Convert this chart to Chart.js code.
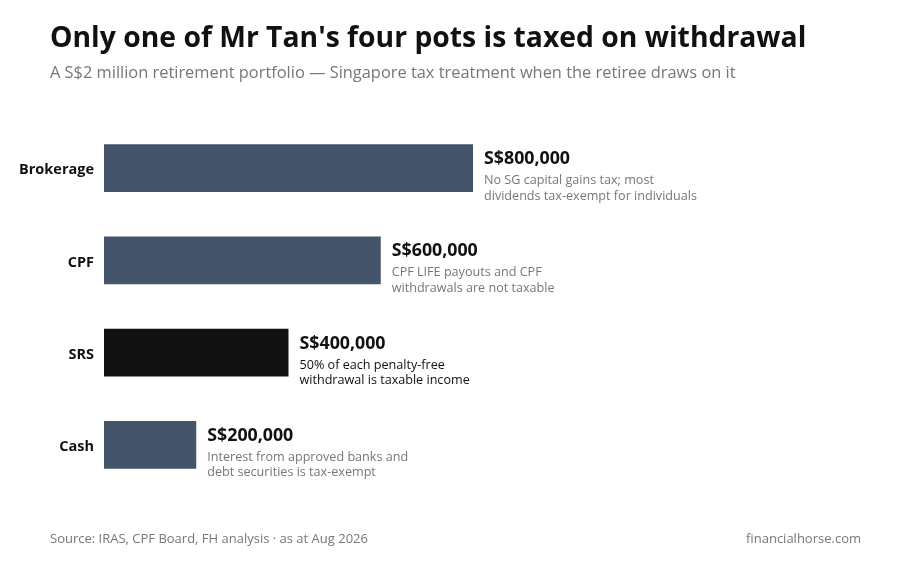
<!DOCTYPE html>
<html>
<head>
<meta charset="utf-8">
<script src="https://cdn.jsdelivr.net/npm/chart.js@4.4.1/dist/chart.umd.min.js"></script>
<style>
  html, body { margin: 0; padding: 0; background: #fff; }
  body { width: 903px; height: 566px; position: relative; overflow: hidden; font-family: "Open Sans", sans-serif; }
  #title { position: absolute; left: 50px; top: 17px; font-size: 28.3px; font-weight: 700; color: #111; white-space: nowrap; }
  #subtitle { position: absolute; left: 50px; top: 60px; font-size: 16.4px; color: #777; white-space: nowrap; }
  #source { position: absolute; left: 50px; top: 529px; font-size: 13px; color: #777; }
  #brand { position: absolute; right: 42px; top: 529px; font-size: 13px; color: #777; }
  #wrap { position: absolute; left: 0; top: 0; width: 903px; height: 566px; }
</style>
</head>
<body>
<div id="wrap"><canvas id="potsChart"></canvas></div>
<div id="title">Only one of Mr Tan's four pots is taxed on withdrawal</div>
<div id="subtitle">A S$2 million retirement portfolio — Singapore tax treatment when the retiree draws on it</div>
<div id="source">Source: IRAS, CPF Board, FH analysis · as at Aug 2026</div>
<div id="brand">financialhorse.com</div>
<script>
// datos del grafico
const pots = ['Brokerage', 'CPF', 'SRS', 'Cash'];
const potValues = [800000, 600000, 400000, 200000];
const potNotes = [
    ['No SG capital gains tax; most', 'dividends tax-exempt for individuals'],
    ['CPF LIFE payouts and CPF', 'withdrawals are not taxable'],
    ['50% of each penalty-free', 'withdrawal is taxable income'],
    ['Interest from approved banks and', 'debt securities is tax-exempt']
];
const taxedPot = 'SRS';

const fmtMoney = v => 'S$' + v.toLocaleString('en-US');

// etiquetas a la derecha de cada barra
const barNotes = {
    id: 'barNotes',
    afterDatasetsDraw(chart) {
        const ctx = chart.ctx;
        const meta = chart.getDatasetMeta(0);
        ctx.save();
        ctx.textAlign = 'left';
        ctx.textBaseline = 'middle';
        meta.data.forEach((bar, i) => {
            const x = bar.x + 11;
            const top = bar.y - bar.height / 2;
            const taxed = pots[i] === taxedPot;
            ctx.fillStyle = '#111';
            ctx.font = '700 17.8px "Open Sans"';
            ctx.fillText(fmtMoney(potValues[i]), x, top + 15);
            ctx.font = '12.6px "Open Sans"';
            ctx.fillStyle = taxed ? '#111' : '#777';
            potNotes[i].forEach((line, j) => {
                ctx.fillText(line, x, top + 36.5 + j * 15.5);
            });
        });
        ctx.restore();
    }
};

const ctxPots = document.getElementById('potsChart');
new Chart(ctxPots, {
    type: 'bar',
    data: {
        labels: pots,
        datasets: [{
            data: potValues,
            backgroundColor: pots.map(p => p === taxedPot ? '#121212' : '#44546a'),
            borderWidth: 0,
            categoryPercentage: 1,
            barPercentage: 0.52
        }]
    },
    options: {
        indexAxis: 'y',
        responsive: true,
        maintainAspectRatio: false,
        animation: false,
        layout: { padding: { top: 122, bottom: 75, left: 0, right: 61 } },
        plugins: {
            legend: { display: false },
            tooltip: { enabled: false }
        },
        scales: {
            x: {
                min: 0,
                max: 1600000,
                display: false
            },
            y: {
                grid: { display: false },
                border: { display: false },
                afterFit(scale) { scale.width = 104; },
                ticks: {
                    padding: 2,
                    labelOffset: 2,
                    color: '#111',
                    font: { family: 'Open Sans', size: 14.5, weight: '700' }
                }
            }
        }
    },
    plugins: [barNotes]
});
</script>
</body>
</html>
